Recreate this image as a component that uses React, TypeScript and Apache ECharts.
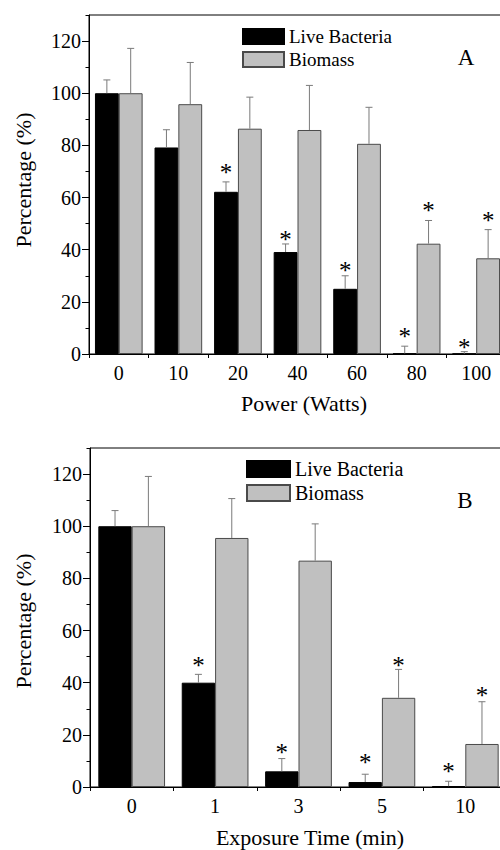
import React, { useEffect, useRef } from 'react';
import * as echarts from 'echarts';

const FONT = 'Liberation Serif';

// Panel A: Power
const powerCategories = ['0', '10', '20', '40', '60', '80', '100'];
const powerLive = [100, 79.2, 62.2, 39.1, 25.0, 0.2, 0.1];
const powerLiveErr = [5.1, 6.8, 3.8, 3.1, 5.0, 2.8, 0.8];
const powerLiveStar = [null, null, 71.4, 45.8, 34.0, 8.5, 4.6];
const powerBiomass = [100, 95.8, 86.4, 85.9, 80.6, 42.3, 36.7];
const powerBiomassErr = [17.2, 16.0, 12.1, 17.1, 14.0, 8.9, 11.0];
const powerBiomassStar = [null, null, null, null, null, 56.9, 53.1];

// Panel B: Exposure time
const timeCategories = ['0', '1', '3', '5', '10'];
const timeLive = [100, 40.0, 6.0, 1.9, 0.3];
const timeLiveErr = [6.0, 3.2, 4.9, 3.0, 1.9];
const timeLiveStar = [null, 48.7, 15.1, 11.5, 7.7];
const timeBiomass = [100, 95.5, 86.8, 34.2, 16.5];
const timeBiomassErr = [19.1, 15.1, 14.1, 10.9, 16.2];
const timeBiomassStar = [null, null, null, 48.7, 37.1];

const yMajorTicks = [0, 20, 40, 60, 80, 100, 120];
const yMin = 0;
const yMax = 130;
const seriesNames = ['Live Bacteria', 'Biomass'];

function errorSeries(axisIdx: number, yIdx: number, values: number[], errs: number[], stars: (number | null)[], side: number) {
  return {
    type: 'custom',
    xAxisIndex: axisIdx,
    yAxisIndex: yIdx,
    silent: true,
    z: 5,
    itemStyle: { color: '#000' },
    data: values.map((v, i) => [i, v, errs[i], stars[i] == null ? -1 : stars[i]]),
    renderItem: (params: any, api: any) => {
      const i = api.value(0);
      const v = api.value(1);
      const e = api.value(2);
      const s = api.value(3);
      const base = api.coord([i, v]);
      const top = api.coord([i, v + e]);
      const bw = api.size([1, 0])[0];
      const x = base[0] + side * bw * 0.2;
      const children: any[] = [
        { type: 'line', shape: { x1: x, y1: base[1], x2: x, y2: top[1] }, style: { stroke: '#7a7a7a', lineWidth: 1 } },
        { type: 'line', shape: { x1: x - 3.5, y1: top[1], x2: x + 3.5, y2: top[1] }, style: { stroke: '#7a7a7a', lineWidth: 1 } },
      ];
      if (s >= 0) {
        const sp = api.coord([i, s]);
        children.push({
          type: 'text',
          x: x,
          y: sp[1] + 5,
          style: { text: '*', fontSize: 25, fontFamily: FONT, fill: '#000', align: 'center', verticalAlign: 'middle' },
        });
      }
      return { type: 'group', children };
    },
  };
}

function xAxisFor(gridIndex: number, cats: string[]) {
  return {
    type: 'category',
    gridIndex,
    data: cats,
    boundaryGap: true,
    axisLine: { show: true, lineStyle: { color: '#000', width: 1 } },
    axisTick: { show: true, alignWithLabel: false, inside: false, length: 4, lineStyle: { color: '#000' } },
    axisLabel: { fontSize: 20, fontFamily: FONT, color: '#000', margin: 9 },
    splitLine: { show: false },
  };
}

function yAxesFor(gridIndex: number) {
  return [
    {
      type: 'value',
      gridIndex,
      position: 'left',
      min: yMin,
      max: yMax,
      interval: 10,
      axisLine: { show: true, lineStyle: { color: '#000', width: 1 } },
      axisTick: { show: true, length: 3.5, lineStyle: { color: '#000' } },
      axisLabel: { show: false },
      splitLine: { show: false },
    },
    {
      type: 'value',
      gridIndex,
      position: 'left',
      min: yMin,
      max: yMax,
      interval: 20,
      axisLine: { show: false },
      axisTick: { show: true, length: 7, lineStyle: { color: '#000' }, customValues: yMajorTicks },
      axisLabel: {
        fontSize: 20,
        fontFamily: FONT,
        color: '#000',
        margin: 8,
        customValues: yMajorTicks,
        formatter: (v: number) => (v > 120 ? '' : String(v)),
      },
      splitLine: { show: false },
    },
  ];
}

function barPair(xIdx: number, yIdx: number, live: number[], bio: number[]) {
  return [
    {
      type: 'bar',
      name: seriesNames[0],
      xAxisIndex: xIdx,
      yAxisIndex: yIdx,
      data: live,
      barGap: '0%',
      barCategoryGap: '20%',
      itemStyle: { color: '#000', borderColor: '#000', borderWidth: 1 },
    },
    {
      type: 'bar',
      name: seriesNames[1],
      xAxisIndex: xIdx,
      yAxisIndex: yIdx,
      data: bio,
      barGap: '0%',
      barCategoryGap: '20%',
      itemStyle: { color: '#c0c0c0', borderColor: '#4a4a4a', borderWidth: 1 },
    },
  ];
}

export default function App() {
  const ref = useRef<HTMLDivElement>(null);
  useEffect(() => {
    if (!ref.current) return;
    const chart = echarts.init(ref.current, undefined, { renderer: 'svg' });
    const titleStyle = { fontSize: 22, fontFamily: FONT, fill: '#000', align: 'center', verticalAlign: 'middle' };
    chart.setOption({
      animation: false,
      backgroundColor: '#fff',
      textStyle: { fontFamily: FONT },
      grid: [
        { left: 89, top: 15, width: 417, height: 339, show: true, borderColor: '#000', borderWidth: 1, backgroundColor: 'transparent' },
        { left: 90, top: 448, width: 417, height: 339, show: true, borderColor: '#000', borderWidth: 1, backgroundColor: 'transparent' },
      ],
      xAxis: [xAxisFor(0, powerCategories), xAxisFor(1, timeCategories)],
      yAxis: [...yAxesFor(0), ...yAxesFor(1)],
      legend: [
        {
          left: 242,
          top: 27,
          padding: 0,
          orient: 'vertical',
          icon: 'rect',
          itemWidth: 41,
          itemHeight: 15,
          itemGap: 4,
          data: seriesNames,
          selectedMode: false,
          textStyle: { fontSize: 19, lineHeight: 19, fontFamily: FONT, color: '#000' },
        },
        {
          left: 246,
          top: 459,
          padding: 0,
          orient: 'vertical',
          icon: 'rect',
          itemWidth: 43,
          itemHeight: 16,
          itemGap: 4,
          data: seriesNames,
          selectedMode: false,
          textStyle: { fontSize: 20, lineHeight: 20, fontFamily: FONT, color: '#000' },
        },
      ],
      graphic: [
        { type: 'text', x: 466, y: 57, style: { ...titleStyle, text: 'A', fontSize: 23 } },
        { type: 'text', x: 465, y: 500, style: { ...titleStyle, text: 'B', fontSize: 23 } },
        { type: 'text', x: 304, y: 403, style: { ...titleStyle, text: 'Power (Watts)' } },
        { type: 'text', x: 310, y: 837, style: { ...titleStyle, text: 'Exposure Time (min)' } },
        { type: 'text', x: 23, y: 180, rotation: Math.PI / 2, style: { ...titleStyle, text: 'Percentage (%)' } },
        { type: 'text', x: 23, y: 621, rotation: Math.PI / 2, style: { ...titleStyle, text: 'Percentage (%)' } },
      ],
      series: [
        ...barPair(0, 0, powerLive, powerBiomass),
        errorSeries(0, 0, powerLive, powerLiveErr, powerLiveStar, -1),
        errorSeries(0, 0, powerBiomass, powerBiomassErr, powerBiomassStar, 1),
        ...barPair(1, 2, timeLive, timeBiomass),
        errorSeries(1, 2, timeLive, timeLiveErr, timeLiveStar, -1),
        errorSeries(1, 2, timeBiomass, timeBiomassErr, timeBiomassStar, 1),
      ],
    });
    return () => chart.dispose();
  }, []);
  return (
    <div style={{ position: 'fixed', left: 0, top: 0, width: 500, height: 850, overflow: 'hidden', background: '#fff' }}>
      <div ref={ref} style={{ width: 520, height: 850 }} />
    </div>
  );
}
